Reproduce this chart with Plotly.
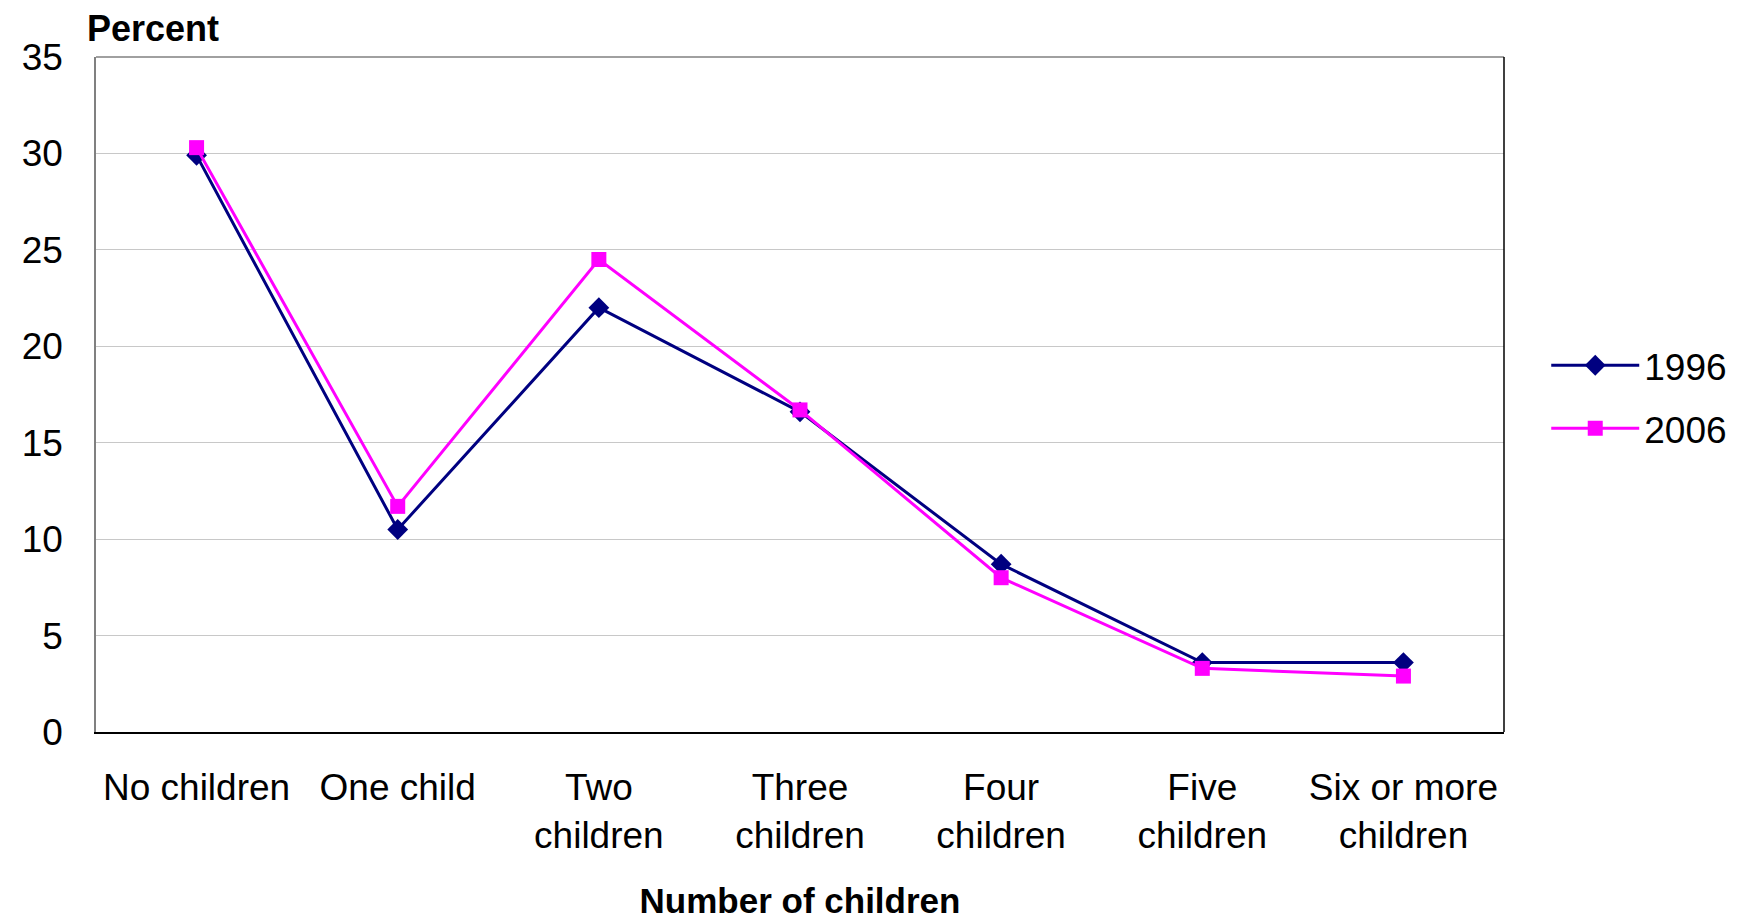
import plotly.graph_objects as go

categories = ["No children", "One child", "Two<br>children", "Three<br>children",
              "Four<br>children", "Five<br>children", "Six or more<br>children"]
values_1996 = [29.9, 10.5, 22.0, 16.6, 8.7, 3.6, 3.6]
values_2006 = [30.3, 11.7, 24.5, 16.7, 8.0, 3.3, 2.9]
y_ticks = [0, 5, 10, 15, 20, 25, 30, 35]

FONT = "Liberation Sans, Arial, sans-serif"

fig = go.Figure()
fig.add_trace(go.Scatter(
    x=categories, y=values_1996, name="1996", mode="lines+markers",
    legendgroup="a",
    line=dict(color="#000080", width=3),
    marker=dict(symbol="diamond", size=16, color="#000080"),
))
fig.add_trace(go.Scatter(
    x=categories, y=values_2006, name="2006", mode="lines+markers",
    legendgroup="b",
    line=dict(color="#FF00FF", width=3),
    marker=dict(symbol="square", size=15, color="#FF00FF"),
))

fig.update_layout(
    width=1742, height=921,
    margin=dict(l=88, r=246, t=49, b=197),
    plot_bgcolor="white", paper_bgcolor="white",
    font=dict(family=FONT, color="black", size=37),
    showlegend=True,
    legend=dict(x=1.03, y=0.496, xanchor="left", yanchor="middle",
                font=dict(size=37, family=FONT), bgcolor="rgba(0,0,0,0)",
                traceorder="grouped", tracegroupgap=12, itemwidth=88),
    xaxis=dict(
        type="category", range=[-0.5, 6.5],
        showline=True, linecolor="black", linewidth=1.5,
        showgrid=False, ticks="", ticklabelstandoff=22,
        tickfont=dict(size=37),
        title=dict(text="<b>Number of children</b>", font=dict(size=35), standoff=33),
    ),
    yaxis=dict(
        range=[0, 35], tickvals=y_ticks,
        showline=True, linecolor="#808080", linewidth=1.5,
        showgrid=True, gridcolor="#c8c8c8", gridwidth=1.3,
        ticks="", ticklabelstandoff=24,
        tickfont=dict(size=37),
        zeroline=False,
    ),
    shapes=[
        dict(type="line", xref="paper", yref="paper", x0=0, x1=1, y0=1, y1=1,
             line=dict(color="#808080", width=1.5)),
        dict(type="line", xref="paper", yref="paper", x0=1, x1=1, y0=0, y1=1,
             line=dict(color="black", width=1.5)),
    ],
    annotations=[
        dict(text="<b>Percent</b>", xref="paper", yref="paper", x=-0.008, y=1.0,
             xanchor="left", yanchor="bottom", yshift=6, showarrow=False,
             font=dict(size=36, family=FONT)),
    ],
)

fig.write_html("out.html")
